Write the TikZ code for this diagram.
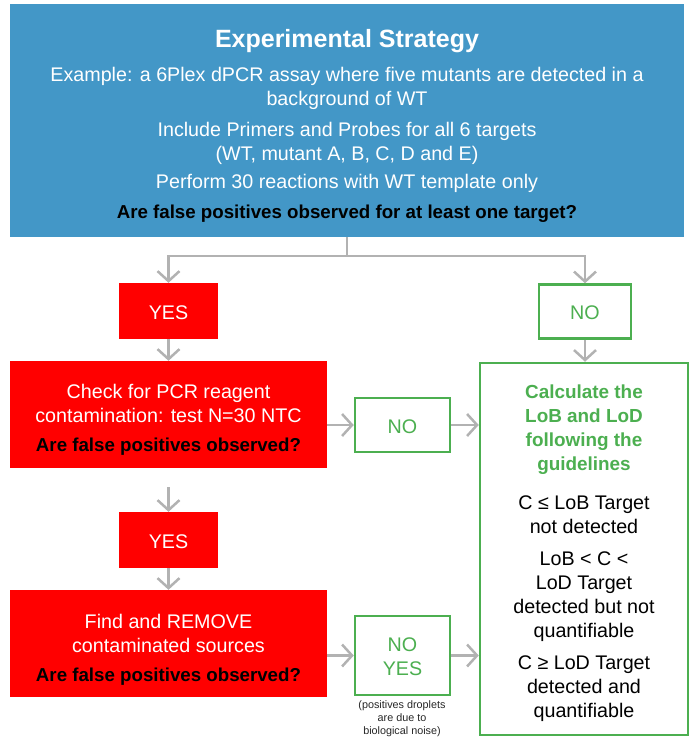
\documentclass[tikz,border=0pt]{standalone}
\usepackage{fontspec}
\setmainfont{Liberation Sans}
\usetikzlibrary{arrows.meta}
\definecolor{bluebg}{RGB}{67,151,199}
\definecolor{redbg}{RGB}{255,0,0}
\definecolor{grn}{RGB}{76,175,80}
\definecolor{arrgray}{RGB}{178,178,178}
\newcommand{\gl}[1]{\textcolor{grn}{\fontsize{18.9}{24}\selectfont\textbf{#1}}}
\newcommand{\bl}[1]{\textcolor{black}{\fontsize{18.7}{24}\selectfont\textbf{#1}}}
\begin{document}
\begin{tikzpicture}[x=1pt,y=-1pt,
 txt/.style={font=\fontsize{19.7}{24}\selectfont, align=center, inner sep=0pt},
 redbox/.style={fill=redbg},
 grnbox/.style={draw=grn, line width=2.5pt, fill=white},
 arr/.style={draw=arrgray, line width=2.5pt, -{Straight Barb[length=10pt,width=22pt]}},
 conn/.style={draw=arrgray, line width=2.5pt}]
\useasboundingbox (0,0) rectangle (691,739);

\node[fill=bluebg, minimum width=674pt, minimum height=233pt] (strat) at (347,120.5) {};
\node[txt, text=white] (strattext) at (347,126) {{\fontsize{25}{30}\selectfont\bfseries Experimental Strategy}\\[10pt]
Example: a 6Plex dPCR assay where five mutants are detected in a\\
background of WT\\[7pt]
Include Primers and Probes for all 6 targets\\
(WT, mutant A, B, C, D and E)\\[4pt]
Perform 30 reactions with WT template only\\[6pt]
\bl{Are false positives observed for at least one target?}};

\node[redbox, minimum width=99pt, minimum height=56pt] (yes1) at (168.5,311) {};
\node[txt, text=white] (yes1t) at (168.5,312.5) {YES};
\node[grnbox, minimum width=92pt, minimum height=54pt] (no1) at (585,311.5) {};
\node[txt, text=grn] (no1t) at (585,313) {NO};

\node[redbox, minimum width=317pt, minimum height=107pt] (check) at (168.5,414.5) {};
\node[txt, text=white] (checkt) at (168.5,420)
 {Check for PCR reagent\\ contamination: test N=30 NTC\\[5pt] \bl{Are false positives observed?}};
\node[grnbox, minimum width=95pt, minimum height=54pt] (no2) at (402.5,425) {};
\node[txt, text=grn] (no2t) at (402.5,427) {NO};

\node[grnbox, minimum width=208pt, minimum height=372pt] (big) at (584,549) {};
\node[txt, text=black] (bigt) at (584,553.5)
 {\gl{Calculate the}\\ \gl{LoB and LoD}\\ \gl{following the}\\ \gl{guidelines}\\[15pt]
 C ≤ LoB Target\\ not detected\\[8pt]
 LoB < C <\\ LoD Target\\ detected but not\\ quantifiable\\[8pt]
 C ≥ LoD Target\\ detected and\\ quantifiable};

\node[redbox, minimum width=99pt, minimum height=56pt] (yes2) at (168.5,540) {};
\node[txt, text=white] (yes2t) at (168.5,542) {YES};
\node[redbox, minimum width=317pt, minimum height=107pt] (find) at (168.5,643.5) {};
\node[txt, text=white] (findt) at (168.5,649.5)
 {Find and REMOVE\\ contaminated sources\\[5pt] \bl{Are false positives observed?}};
\node[grnbox, minimum width=95pt, minimum height=79pt] (no3) at (402.5,655.5) {};
\node[txt, text=grn] (no3t) at (402.5,657) {NO\\ YES};
\node[txt, font=\fontsize{10.8}{13}\selectfont, text=black!85] (note) at (402,718.5)
 {(positives droplets\\ are due to\\ biological noise)};

\coordinate (j) at (347,256);
\draw[conn] (strat.south) -- (j);
\draw[arr] (j) -| (yes1.north);
\draw[arr] (j) -| (no1.north);
\draw[arr] (yes1) -- (check);
\draw[arr] (no1) -- (big.north -| no1);
\draw[arr] (check.east |- no2) -- (no2.west);
\draw[arr] (no2.east) -- (no2.east -| big.west);
\draw[arr, shorten <=19pt] (check) -- (yes2);
\draw[arr] (yes2) -- (find);
\draw[arr] (find.east |- no3) -- (no3.west);
\draw[arr] (no3.east) -- (no3.east -| big.west);
\end{tikzpicture}
\end{document}
